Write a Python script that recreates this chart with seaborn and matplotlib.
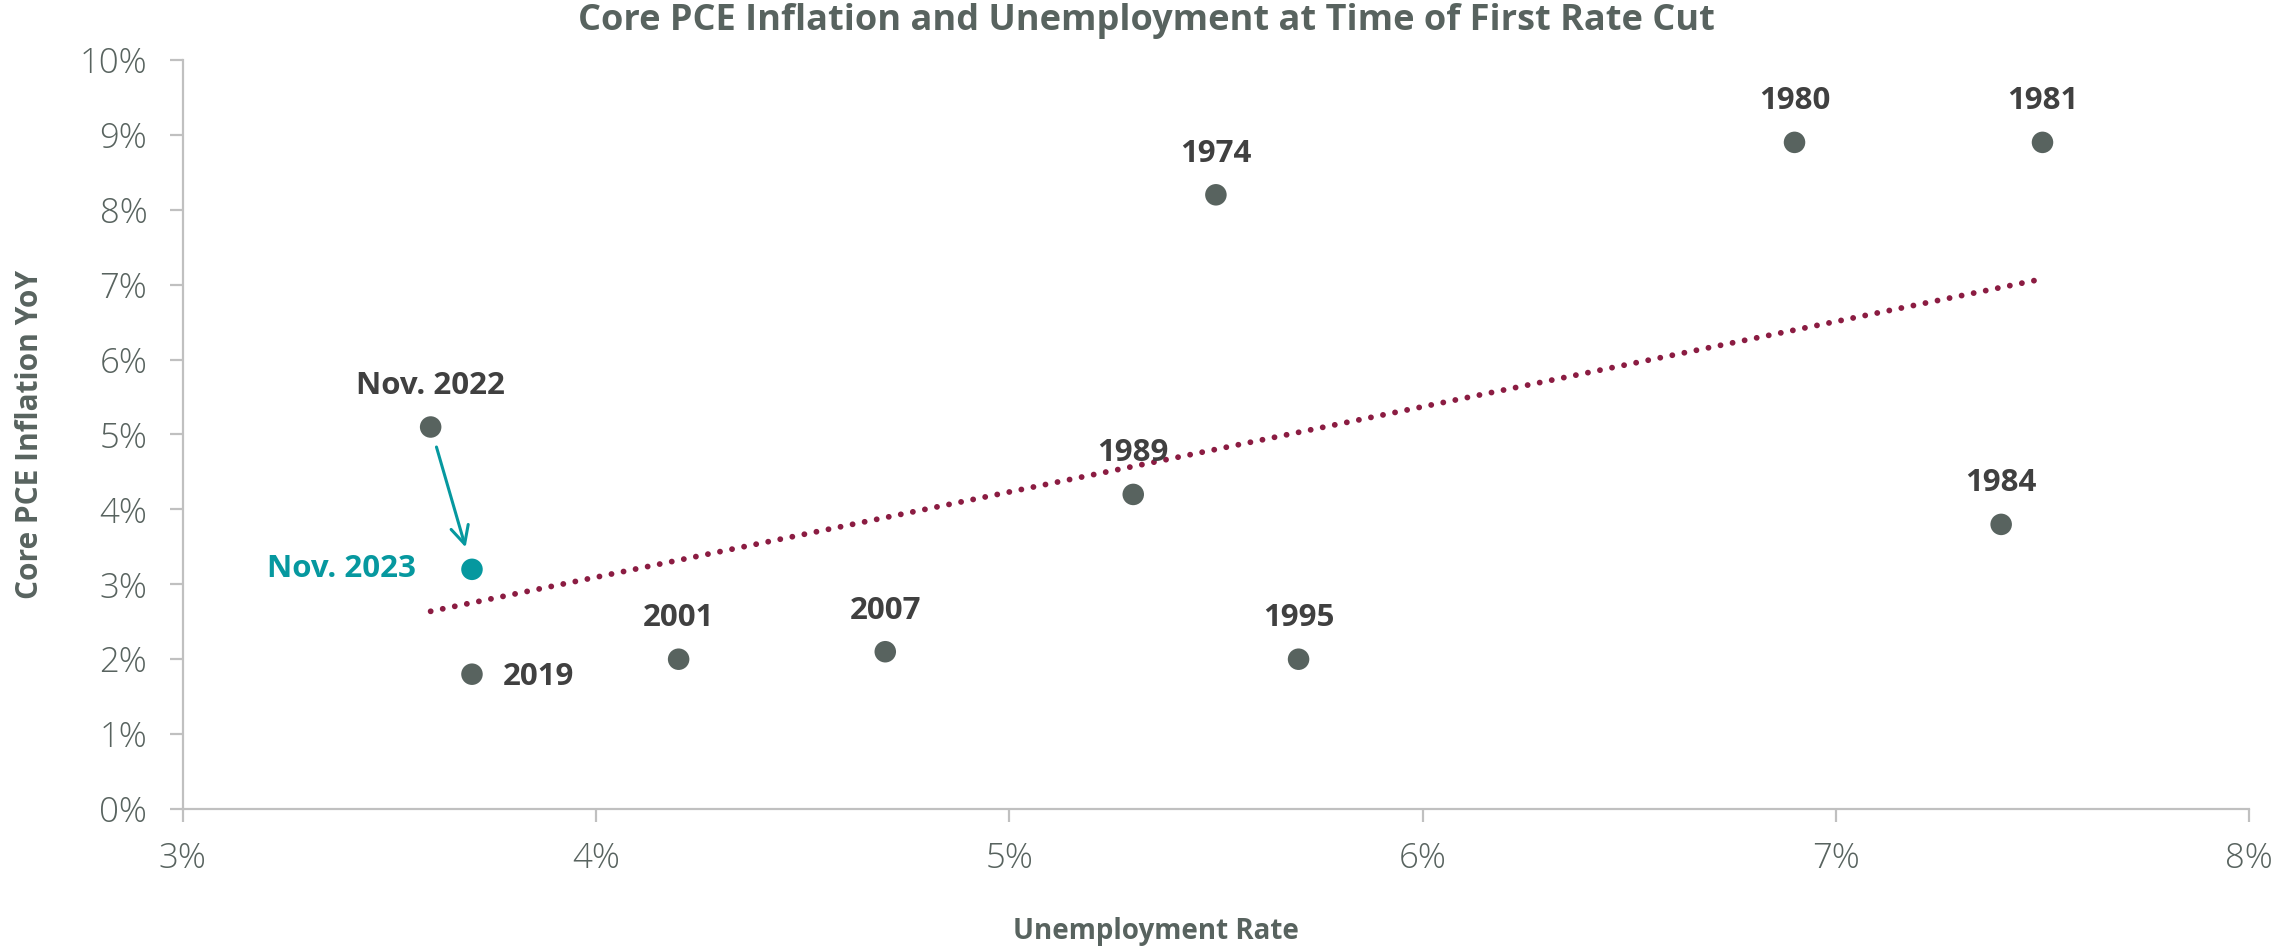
import matplotlib
matplotlib.use("Agg")
import matplotlib.pyplot as plt
import seaborn as sns
import pandas as pd
from matplotlib.ticker import FuncFormatter, MultipleLocator

# ---- data ----
labels = ["1974", "1980", "1981", "1984", "1989", "1995", "2001", "2007", "2019", "Nov. 2022", "Nov. 2023"]
unemployment = [5.5, 6.9, 7.5, 7.4, 5.3, 5.7, 4.2, 4.7, 3.7, 3.6, 3.7]
core_pce = [8.2, 8.9, 8.9, 3.8, 4.2, 2.0, 2.0, 2.1, 1.8, 5.1, 3.2]
label_side = ["above", "above", "above", "above", "above", "above", "above", "above", "right", "above", "left"]
group = ["history"] * 10 + ["current"]

df = pd.DataFrame({"label": labels, "unemp": unemployment, "pce": core_pce,
                   "side": label_side, "group": group})

GRAY = "#58635f"
DARK = "#404040"
TEAL = "#06989f"
MAROON = "#8b1c42"
AXIS = "#c0c0c0"

sns.set_theme(style="white")
plt.rcParams["font.family"] = ["Open Sans", "DejaVu Sans"]

fig = plt.figure(figsize=(22.92, 9.49), dpi=100)
ax = fig.add_axes([0.0797, 0.1475, 0.9016, 0.7893])

# trend line (regression on all points)
sns.regplot(data=df, x="unemp", y="pce", scatter=False, ci=None, ax=ax, truncate=True,
            line_kws=dict(color=MAROON, lw=4.2, ls=(0, (0.01, 2.1)), dash_capstyle="round"))

sns.scatterplot(data=df, x="unemp", y="pce", hue="group",
                palette={"history": GRAY, "current": TEAL},
                s=240, edgecolor="none", legend=False, ax=ax, zorder=3)

LABEL_FS = 22.5
for _, r in df.iterrows():
    color = TEAL if r["group"] == "current" else DARK
    if r["side"] == "above":
        ax.annotate(r["label"], (r["unemp"], r["pce"]), xytext=(0, 29.5), textcoords="offset points",
                    ha="center", va="center", fontsize=LABEL_FS, fontweight="bold", color=color)
    elif r["side"] == "right":
        ax.annotate(r["label"], (r["unemp"], r["pce"]), xytext=(22, -2), textcoords="offset points",
                    ha="left", va="center", fontsize=LABEL_FS, fontweight="bold", color=color)
    else:
        ax.annotate(r["label"], (r["unemp"], r["pce"]), xytext=(-40, 0), textcoords="offset points",
                    ha="right", va="center", fontsize=LABEL_FS, fontweight="bold", color=color)

# arrow from Nov. 2022 to Nov. 2023
p0 = df[df["label"] == "Nov. 2022"].iloc[0]
p1 = df[df["label"] == "Nov. 2023"].iloc[0]
ax.annotate("", xy=(p1["unemp"], p1["pce"]), xytext=(p0["unemp"], p0["pce"]),
            arrowprops=dict(arrowstyle="->", color=TEAL, lw=2.2, shrinkA=15, shrinkB=16.5,
                            mutation_scale=32))

ax.set_xlim(3, 8)
ax.set_ylim(0, 10)
ax.xaxis.set_major_locator(MultipleLocator(1))
ax.yaxis.set_major_locator(MultipleLocator(1))
pct = FuncFormatter(lambda v, _: f"{v:.0f}%")
ax.xaxis.set_major_formatter(pct)
ax.yaxis.set_major_formatter(pct)

for s in ["top", "right"]:
    ax.spines[s].set_visible(False)
for s in ["left", "bottom"]:
    ax.spines[s].set_color(AXIS)
    ax.spines[s].set_linewidth(1.6)

ax.tick_params(axis="both", which="major", direction="out", length=9.5, width=1.6, color=AXIS,
               labelsize=25, labelcolor=GRAY, left=True, bottom=True)
ax.tick_params(axis="x", pad=14)
ax.tick_params(axis="y", pad=16)
for t in ax.get_xticklabels() + ax.get_yticklabels():
    t.set_fontweight("light")

ax.set_xlabel("Unemployment Rate", fontsize=20, fontweight="bold", color=GRAY)
ax.set_ylabel("Core PCE Inflation YoY", fontsize=21.5, fontweight="bold", color=GRAY)
ax.xaxis.label.set_va("center")
ax.xaxis.set_label_coords(0.471, -0.164)
ax.yaxis.set_label_coords(-0.0667, 0.5)

fig.text(0.5, 0.978, "Core PCE Inflation and Unemployment at Time of First Rate Cut",
         ha="center", va="center", fontsize=26, fontweight="bold", color=GRAY)

fig.savefig("out.png", dpi=100, facecolor="white")
